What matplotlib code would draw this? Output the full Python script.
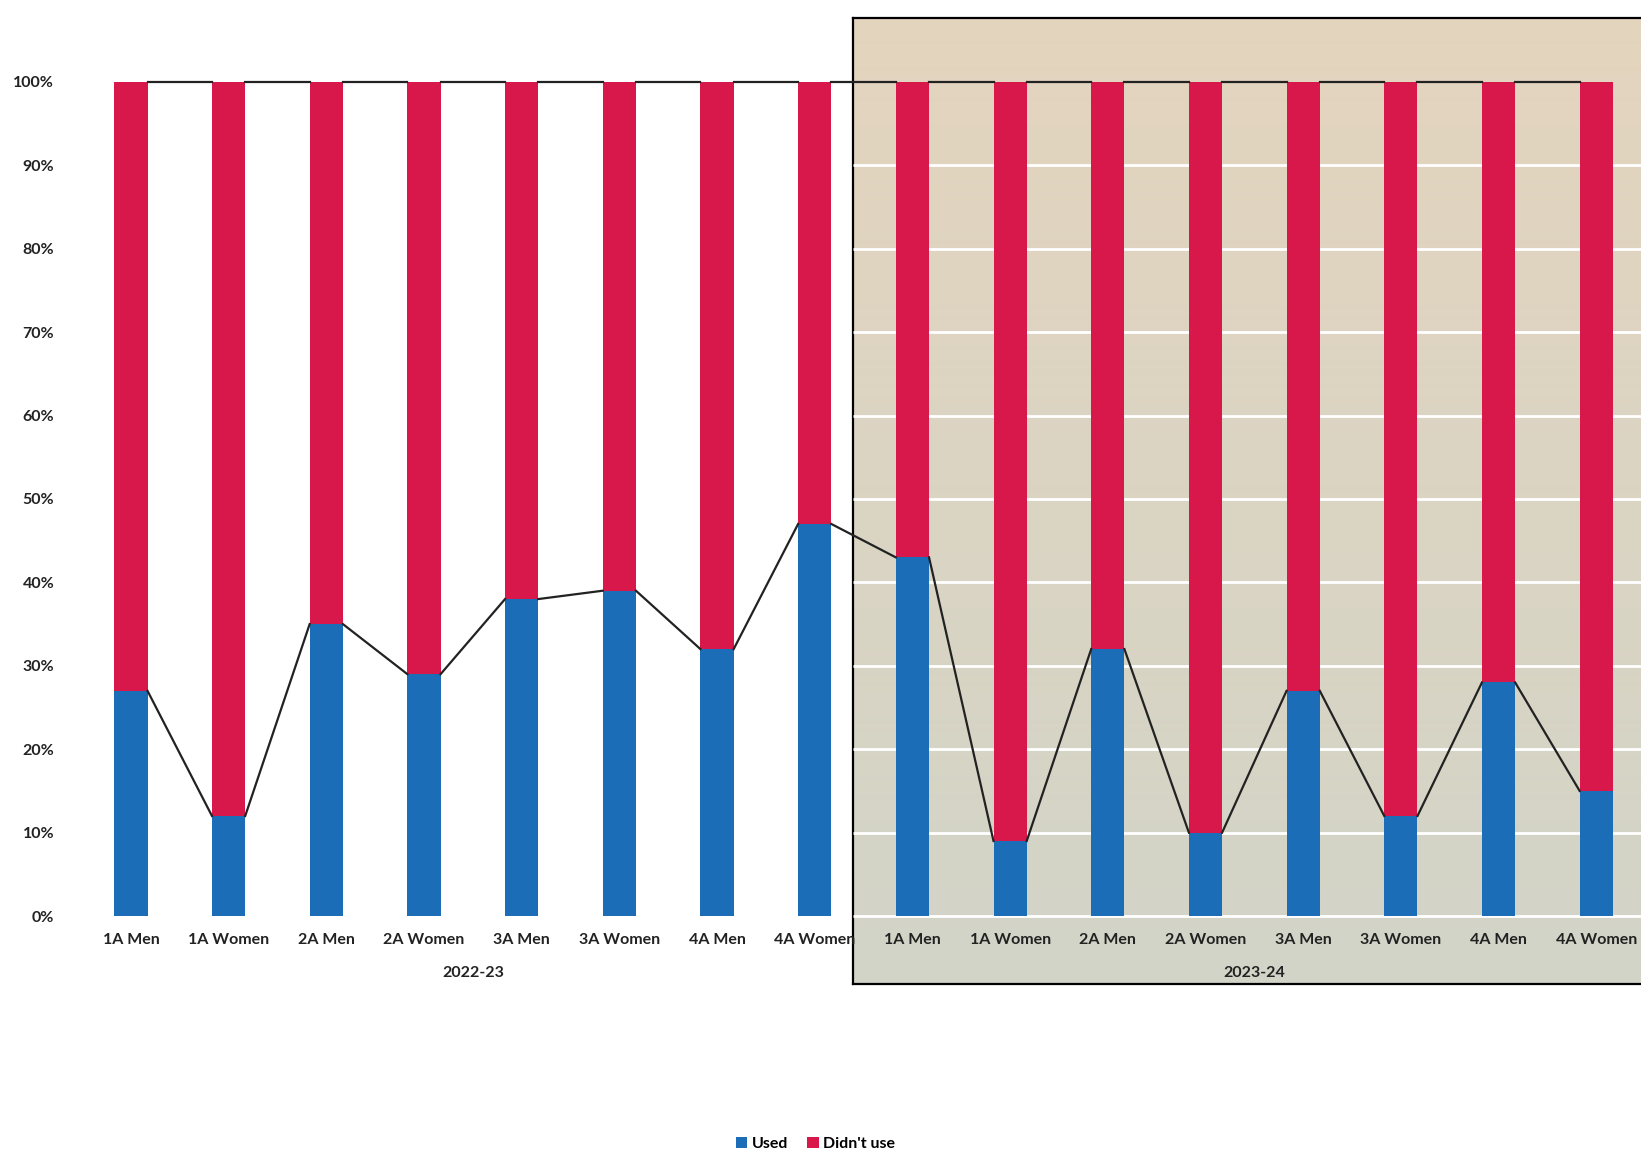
import numpy as np
import matplotlib.pyplot as plt

plt.rcParams['font.family'] = ['Lato', 'DejaVu Sans']

groups = ["2022-23", "2023-24"]
categories = ["1A Men", "1A Women", "2A Men", "2A Women",
              "3A Men", "3A Women", "4A Men", "4A Women"]
used_2022 = [27, 12, 35, 29, 38, 39, 32, 47]
used_2023 = [43, 9, 32, 10, 27, 12, 28, 15]

used = np.array(used_2022 + used_2023, dtype=float)
didnt_use = 100 - used
labels = categories * len(groups)

BLUE = "#1b6db8"
RED = "#d8174a"
TXT = "#222222"

fig = plt.figure(figsize=(16.41, 11.53), dpi=100)

# shaded panel behind the second year
bg = fig.add_axes([0.52, 0.147, 0.5, 0.837], zorder=0)
grad = np.linspace(0, 1, 256)[:, None]
top_c = np.array([228, 212, 190]) / 255
bot_c = np.array([210, 212, 200]) / 255
img = top_c[None, None, :] * (1 - grad[..., None]) + bot_c[None, None, :] * grad[..., None]
bg.imshow(img, aspect="auto", extent=[0, 1, 0, 1])
bg.set_xticks([])
bg.set_yticks([])
for s in bg.spines.values():
    s.set_color("black")
    s.set_linewidth(1.6)

ax = fig.add_axes([0.05, 0.2055, 0.9525, 0.7235], zorder=1)
ax.set_facecolor("none")

x = np.arange(len(used))
w = 0.34
panel_x = 7.39

# white gridlines only inside the shaded panel
for gy in range(0, 100, 10):
    ax.hlines(gy, panel_x, 15.6, color="white", lw=2, zorder=0.5, clip_on=False)

ax.bar(x, used, w, color=BLUE, label="Used", zorder=2)
ax.bar(x, didnt_use, w, bottom=used, color=RED, label="Didn't use", zorder=2)

# series lines joining neighbouring bars
for i in range(len(x) - 1):
    ax.plot([x[i] + w / 2, x[i + 1] - w / 2], [used[i], used[i + 1]],
            color=TXT, lw=1.6, zorder=3, clip_on=False)
    ax.plot([x[i] + w / 2, x[i + 1] - w / 2], [100, 100],
            color=TXT, lw=1.6, zorder=3, clip_on=False)

ax.set_xlim(-0.5, 15.5)
ax.set_ylim(0, 100)
ax.set_yticks(np.arange(0, 101, 10))
ax.set_yticklabels([f"{v}%" for v in range(0, 101, 10)],
                   fontsize=11.5, fontweight="bold", color=TXT)
ax.set_xticks(x)
ax.set_xticklabels(labels, fontsize=11.5, fontweight="bold", color=TXT)
ax.tick_params(axis="both", length=0)
ax.tick_params(axis="x", pad=12)
ax.tick_params(axis="y", pad=20)
for s in ax.spines.values():
    s.set_visible(False)

for gi, g in enumerate(groups):
    cx = gi * 8 + 3.5
    ax.text(cx, -6.8, g, ha="center", va="center", fontsize=11.5,
            fontweight="bold", color=TXT)

handles, names = ax.get_legend_handles_labels()
fig.legend(handles, names, loc="lower center", bbox_to_anchor=(0.497, -0.002),
           ncol=2, frameon=False, handlelength=0.7, handleheight=0.7,
           handletextpad=0.3, columnspacing=1.2, borderpad=0.15,
           borderaxespad=0.1, prop={"weight": "bold", "size": 11.5})

fig.savefig("out.png", dpi=100)
